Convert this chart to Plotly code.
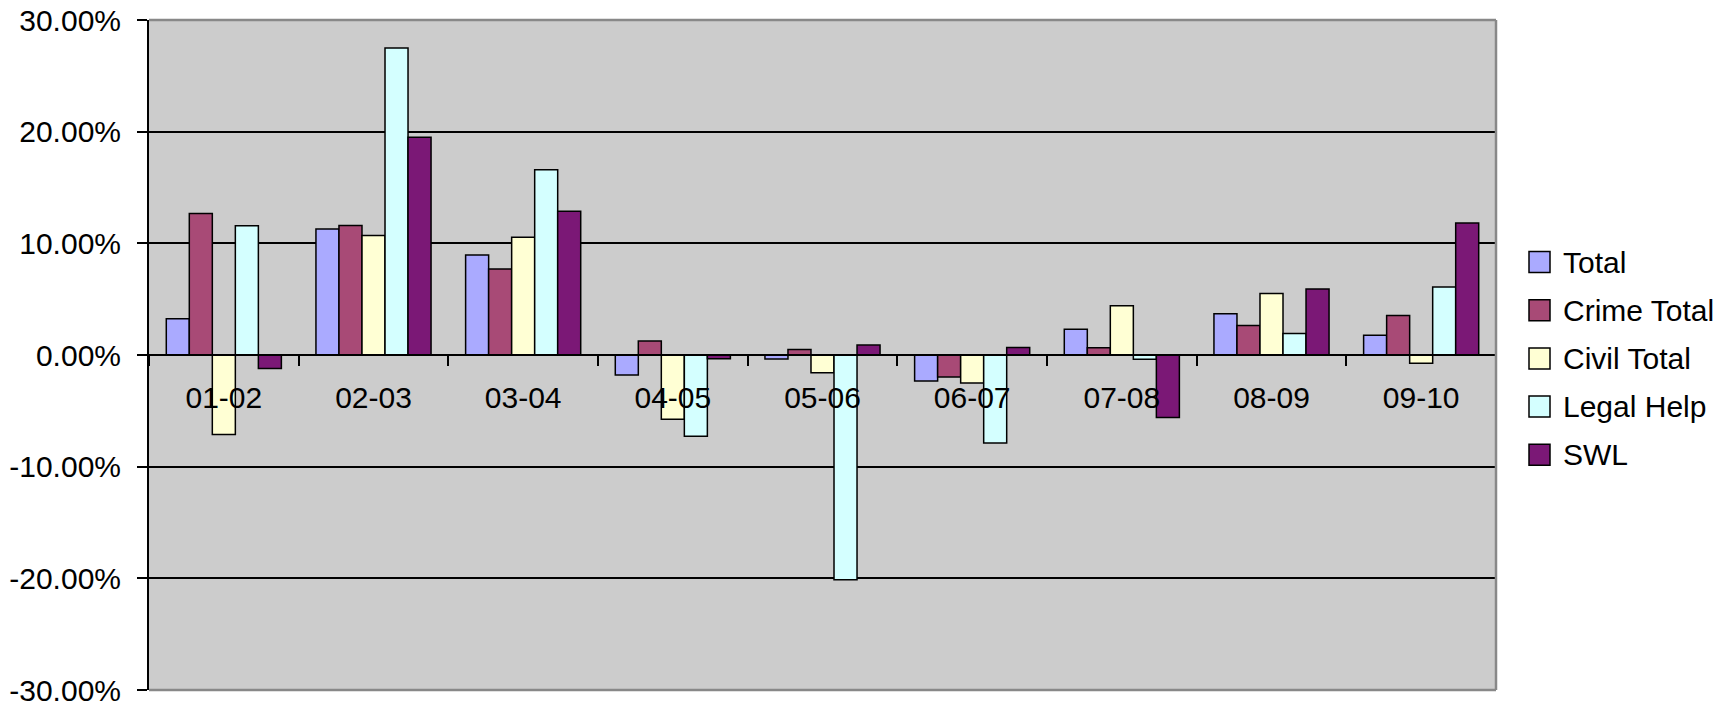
import plotly.graph_objects as go

years = ["01-02", "02-03", "03-04", "04-05", "05-06", "06-07", "07-08", "08-09", "09-10"]

total = [0.0324, 0.1128, 0.0896, -0.0180, -0.0036, -0.0232, 0.0230, 0.0369, 0.0176]
crime_total = [0.1268, 0.1160, 0.0771, 0.0125, 0.0050, -0.0196, 0.0066, 0.0265, 0.0354]
civil_total = [-0.0712, 0.1071, 0.1054, -0.0575, -0.0158, -0.0250, 0.0441, 0.0550, -0.0074]
legal_help = [0.1157, 0.2750, 0.1660, -0.0728, -0.2012, -0.0789, -0.0038, 0.0193, 0.0610]
swl = [-0.0122, 0.1949, 0.1288, -0.0034, 0.0089, 0.0068, -0.0560, 0.0592, 0.1182]

y_ticks = [-0.3, -0.2, -0.1, 0.0, 0.1, 0.2, 0.3]
y_tick_labels = ["-30.00%", "-20.00%", "-10.00%", "0.00%", "10.00%", "20.00%", "30.00%"]

series = [
    ("Total", total, "#AAAAFF"),
    ("Crime Total", crime_total, "#A84A76"),
    ("Civil Total", civil_total, "#FFFFD4"),
    ("Legal Help", legal_help, "#D4FFFF"),
    ("SWL", swl, "#7B1876"),
]

FONT = "Liberation Sans, Arial, sans-serif"
W, H = 1717, 704
L, R, T, B = 149, 221, 20, 14
PW, PH = W - L - R, H - T - B


def px_x(px):
    return (px - L) / PW


def px_y(py):
    return (H - B - py) / PH


fig = go.Figure()
for name, vals, color in series:
    fig.add_trace(go.Bar(
        x=years, y=vals, name=name, showlegend=False,
        marker=dict(color=color, line=dict(color="black", width=1.5)),
    ))

fig.update_layout(
    width=W, height=H,
    margin=dict(l=L, r=R, t=T, b=B),
    paper_bgcolor="white",
    plot_bgcolor="#CCCCCC",
    barmode="group",
    bargap=0.231,
    bargroupgap=0,
    font=dict(family=FONT, size=30, color="black"),
    showlegend=False,
)

fig.update_yaxes(
    range=[-0.3, 0.3], tickvals=y_ticks, ticktext=y_tick_labels,
    showgrid=True, gridcolor="black", gridwidth=1.5,
    zeroline=False,
    showline=True, linecolor="black", linewidth=2,
    ticks="outside", ticklen=10, tickcolor="black", tickwidth=1.5,
    ticklabelstandoff=10, ticklabeloverflow="allow",
    automargin=False,
    tickfont=dict(family=FONT, size=30, color="black"),
)

fig.update_xaxes(
    type="category",
    anchor="free", position=0.5,
    showgrid=False, zeroline=False,
    showline=True, linecolor="black", linewidth=2,
    ticks="outside", tickson="boundaries", ticklen=10, tickcolor="black", tickwidth=1.5,
    ticklabelstandoff=16, automargin=False,
    tickfont=dict(family=FONT, size=30, color="black"),
)

# grey frame on top, right and bottom of the plot area
for x0, y0, x1, y1 in [(0, 1, 1, 1), (1, 0, 1, 1), (0, 0, 1, 0)]:
    fig.add_shape(type="line", xref="paper", yref="paper",
                  x0=x0, y0=y0, x1=x1, y1=y1,
                  line=dict(color="#888888", width=2.5), layer="above")

# legend: square swatches with the series names beside them
sw_left, sw_size, text_left = 1529, 21, 1561
first_center, step = 262, 48.2
for i, (name, vals, color) in enumerate(series):
    cy = first_center + i * step
    fig.add_shape(type="rect", xref="paper", yref="paper",
                  x0=px_x(sw_left), x1=px_x(sw_left + sw_size),
                  y0=px_y(cy + sw_size / 2), y1=px_y(cy - sw_size / 2),
                  fillcolor=color, line=dict(color="black", width=1.5))
    fig.add_annotation(xref="paper", yref="paper",
                       x=px_x(text_left), y=px_y(cy),
                       xanchor="left", yanchor="middle", showarrow=False,
                       text=name, font=dict(family=FONT, size=30, color="black"))

fig.write_html("out.html")
